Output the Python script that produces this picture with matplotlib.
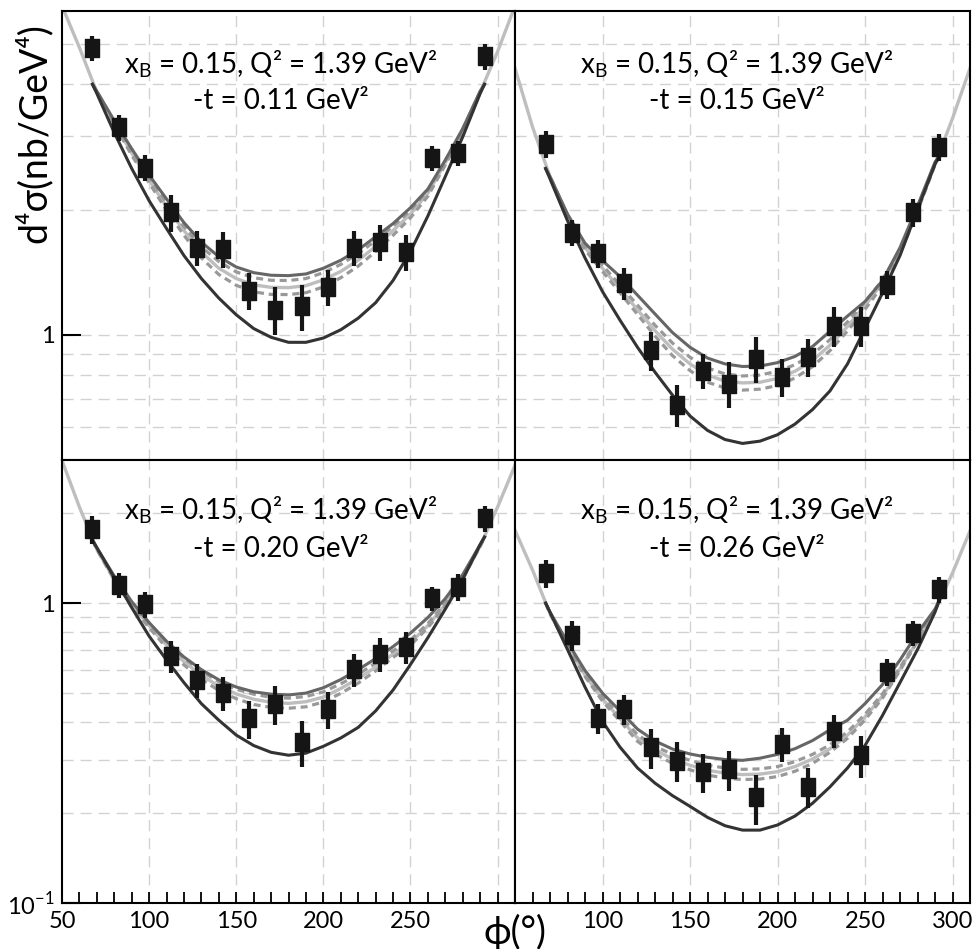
import matplotlib
matplotlib.use("Agg")
import matplotlib.pyplot as plt
from matplotlib.ticker import FixedLocator, FixedFormatter, NullLocator, MultipleLocator

plt.rcParams["font.family"] = ["Lato", "DejaVu Sans"]
plt.rcParams["mathtext.fontset"] = "custom"
plt.rcParams["mathtext.rm"] = "Lato"

# phi bins of the data points (deg)
PHI_BINS = [67.5, 82.5, 97.5, 112.5, 127.5, 142.5, 157.5, 172.5,
            187.5, 202.5, 217.5, 232.5, 247.5, 262.5, 277.5, 292.5]
# phi grid of the model curves
PHI_MODEL = [67.5, 70, 80, 90, 100, 110, 120, 130, 140, 150, 160, 170, 180,
             190, 200, 210, 220, 230, 240, 250, 260, 270, 280, 290, 292.5]
PHI_LIGHT = [50, 60, 70, 80, 90, 100, 110, 120, 130, 140, 150, 160, 170, 180,
             190, 200, 210, 220, 230, 240, 250, 260, 270, 280, 290, 300, 310]

# -t = 0.11
TL_Y = [4.89, 3.15, 2.52, 1.97, 1.62, 1.61, 1.275, 1.15, 1.17, 1.30, 1.62, 1.67, 1.58, 2.66, 2.73, 4.67]
TL_ERR = [0.34, 0.22, 0.18, 0.20, 0.16, 0.16, 0.13, 0.15, 0.15, 0.13, 0.16, 0.17, 0.16, 0.19, 0.19, 0.33]
TL_LIGHT = [6.17, 4.90, 3.83, 3.23, 2.735, 2.355, 2.03, 1.78, 1.58, 1.445, 1.365, 1.318, 1.30, 1.298,
            1.312, 1.355, 1.42, 1.51, 1.63, 1.78, 1.95, 2.19, 2.59, 3.10, 3.83, 4.79, 6.17]
TL_UPPER = [4.00, 3.85, 3.27, 2.80, 2.42, 2.12, 1.86, 1.67, 1.54, 1.455, 1.41, 1.39, 1.387,
            1.40, 1.445, 1.51, 1.60, 1.72, 1.85, 2.02, 2.24, 2.63, 3.13, 3.85, 4.00]
TL_DASH_HI = [4.00, 3.84, 3.25, 2.77, 2.39, 2.075, 1.82, 1.625, 1.50, 1.416, 1.371, 1.352, 1.35,
              1.365, 1.41, 1.476, 1.567, 1.683, 1.824, 1.99, 2.22, 2.62, 3.12, 3.84, 4.00]
TL_DASH_LO = [4.00, 3.82, 3.21, 2.70, 2.32, 1.99, 1.734, 1.53, 1.396, 1.315, 1.268, 1.25, 1.249,
              1.262, 1.303, 1.371, 1.462, 1.585, 1.734, 1.91, 2.153, 2.56, 3.08, 3.82, 4.00]
TL_LOWER = [4.00, 3.80, 3.06, 2.51, 2.10, 1.80, 1.55, 1.365, 1.225, 1.117, 1.035, 0.986, 0.959,
            0.959, 0.982, 1.028, 1.096, 1.194, 1.35, 1.585, 1.93, 2.40, 2.99, 3.80, 4.00]

# -t = 0.15
TR_Y = [2.87, 1.76, 1.57, 1.33, 0.918, 0.679, 0.82, 0.763, 0.875, 0.792, 0.885, 1.05, 1.05, 1.32, 1.97, 2.83]
TR_ERR = [0.21, 0.13, 0.12, 0.12, 0.10, 0.08, 0.08, 0.095, 0.11, 0.083, 0.093, 0.115, 0.115, 0.10, 0.15, 0.21]
TR_LIGHT = [4.37, 3.16, 2.40, 1.93, 1.62, 1.445, 1.29, 1.148, 1.023, 0.923, 0.851, 0.80, 0.774, 0.766,
            0.769, 0.785, 0.817, 0.867, 0.944, 1.047, 1.175, 1.334, 1.585, 2.00, 2.57, 3.31, 4.37]
TR_UPPER = [2.51, 2.40, 1.95, 1.66, 1.507, 1.38, 1.245, 1.122, 1.012, 0.933, 0.879, 0.851, 0.839,
            0.841, 0.857, 0.887, 0.937, 1.019, 1.109, 1.202, 1.349, 1.62, 2.04, 2.60, 2.69]
TR_DASH_HI = [2.51, 2.40, 1.94, 1.64, 1.47, 1.315, 1.178, 1.054, 0.955, 0.883, 0.832, 0.805, 0.796,
              0.80, 0.817, 0.847, 0.897, 0.973, 1.074, 1.199, 1.355, 1.60, 2.01, 2.58, 2.69]
TR_DASH_LO = [2.51, 2.39, 1.91, 1.60, 1.42, 1.262, 1.119, 0.993, 0.891, 0.82, 0.769, 0.745, 0.736,
              0.74, 0.755, 0.787, 0.838, 0.916, 1.021, 1.151, 1.312, 1.567, 1.98, 2.56, 2.69]
TR_LOWER = [2.51, 2.37, 1.88, 1.53, 1.27, 1.084, 0.933, 0.813, 0.716, 0.638, 0.589, 0.56, 0.548,
            0.555, 0.575, 0.61, 0.661, 0.733, 0.851, 1.035, 1.26, 1.55, 2.00, 2.57, 2.69]

# -t = 0.20
BL_Y = [1.765, 1.148, 0.992, 0.666, 0.554, 0.502, 0.413, 0.461, 0.345, 0.442, 0.601, 0.679, 0.715, 1.037, 1.133, 1.916]
BL_ERR = [0.19, 0.11, 0.10, 0.081, 0.072, 0.065, 0.060, 0.069, 0.060, 0.062, 0.076, 0.088, 0.087, 0.097, 0.113, 0.19]
BL_LIGHT = [2.99, 2.09, 1.51, 1.20, 0.989, 0.841, 0.724, 0.638, 0.575, 0.528, 0.498, 0.478, 0.467, 0.463,
            0.469, 0.486, 0.519, 0.56, 0.612, 0.676, 0.738, 0.841, 0.989, 1.216, 1.55, 2.09, 2.88]
BL_UPPER = [1.62, 1.53, 1.23, 1.012, 0.861, 0.746, 0.661, 0.60, 0.555, 0.525, 0.506, 0.497, 0.494,
            0.501, 0.522, 0.556, 0.60, 0.653, 0.716, 0.794, 0.895, 1.035, 1.245, 1.567, 1.66]
BL_DASH_HI = [1.62, 1.52, 1.21, 1.00, 0.855, 0.74, 0.655, 0.593, 0.547, 0.516, 0.497, 0.485, 0.482,
              0.488, 0.506, 0.538, 0.579, 0.631, 0.693, 0.753, 0.855, 1.00, 1.225, 1.55, 1.66]
BL_DASH_LO = [1.62, 1.51, 1.194, 0.977, 0.828, 0.71, 0.622, 0.558, 0.511, 0.48, 0.459, 0.449, 0.446,
              0.451, 0.468, 0.50, 0.541, 0.594, 0.659, 0.723, 0.828, 0.977, 1.208, 1.545, 1.66]
BL_LOWER = [1.62, 1.53, 1.216, 0.966, 0.776, 0.646, 0.543, 0.462, 0.407, 0.363, 0.335, 0.318, 0.311,
            0.316, 0.333, 0.355, 0.385, 0.437, 0.513, 0.624, 0.767, 0.955, 1.20, 1.567, 1.66]

# -t = 0.26
BR_Y = [1.262, 0.782, 0.413, 0.442, 0.330, 0.298, 0.274, 0.279, 0.225, 0.339, 0.244, 0.375, 0.311, 0.590, 0.796, 1.11]
BR_ERR = [0.135, 0.088, 0.047, 0.05, 0.05, 0.045, 0.041, 0.042, 0.043, 0.044, 0.037, 0.047, 0.05, 0.062, 0.078, 0.109]
BR_LIGHT = [1.75, 1.29, 0.923, 0.724, 0.575, 0.479, 0.412, 0.355, 0.324, 0.302, 0.288, 0.277, 0.271, 0.268,
            0.269, 0.274, 0.285, 0.302, 0.327, 0.363, 0.417, 0.49, 0.603, 0.75, 0.944, 1.26, 1.74]
BR_UPPER = [1.00, 0.933, 0.741, 0.596, 0.501, 0.437, 0.38, 0.347, 0.326, 0.314, 0.306, 0.301, 0.299,
            0.304, 0.313, 0.327, 0.348, 0.378, 0.407, 0.462, 0.535, 0.646, 0.794, 0.955, 1.023]
BR_DASH_HI = [1.00, 0.925, 0.73, 0.582, 0.486, 0.421, 0.364, 0.333, 0.313, 0.299, 0.288, 0.282, 0.279,
              0.28, 0.285, 0.296, 0.313, 0.337, 0.372, 0.426, 0.498, 0.61, 0.755, 0.946, 1.023]
BR_DASH_LO = [1.00, 0.92, 0.719, 0.569, 0.471, 0.404, 0.346, 0.314, 0.292, 0.278, 0.267, 0.261, 0.258,
              0.259, 0.264, 0.275, 0.292, 0.318, 0.354, 0.408, 0.482, 0.596, 0.745, 0.942, 1.023]
BR_LOWER = [1.00, 0.933, 0.70, 0.525, 0.403, 0.331, 0.282, 0.251, 0.228, 0.21, 0.193, 0.181, 0.175,
            0.175, 0.182, 0.195, 0.215, 0.244, 0.282, 0.335, 0.422, 0.543, 0.70, 0.933, 1.023]

T_LABELS = ["0.11", "0.15", "0.20", "0.26"]
KIN_LABEL = r"x$_{\mathregular{B}}$ = 0.15, Q² = 1.39 GeV²"

GRID_X = [100, 150, 200, 250, 300]
GRID_Y_TOP = [0.6, 0.7, 0.8, 0.9, 1, 2, 3, 4, 5]
GRID_Y_BOT = [0.2, 0.3, 0.4, 0.5, 0.6, 0.7, 0.8, 0.9, 1, 2]

RECT = [(-0.78, -1), (0.78, -1), (0.78, 1), (-0.78, 1), (-0.78, -1)]

W, H = 976, 949
fig = plt.figure(figsize=(W / 100, H / 100), dpi=100)


def px_axes(x0, x1, y0, y1):
    return fig.add_axes([x0 / W, 1 - y1 / H, (x1 - x0) / W, (y1 - y0) / H])


axes = {
    "tl": px_axes(62, 515, 11, 460),
    "tr": px_axes(515, 970, 11, 460),
    "bl": px_axes(62, 515, 460, 903),
    "br": px_axes(515, 970, 460, 903),
}

panels = [
    ("tl", TL_Y, TL_ERR, TL_LIGHT, TL_UPPER, TL_DASH_HI, TL_DASH_LO, TL_LOWER, T_LABELS[0]),
    ("tr", TR_Y, TR_ERR, TR_LIGHT, TR_UPPER, TR_DASH_HI, TR_DASH_LO, TR_LOWER, T_LABELS[1]),
    ("bl", BL_Y, BL_ERR, BL_LIGHT, BL_UPPER, BL_DASH_HI, BL_DASH_LO, BL_LOWER, T_LABELS[2]),
    ("br", BR_Y, BR_ERR, BR_LIGHT, BR_UPPER, BR_DASH_HI, BR_DASH_LO, BR_LOWER, T_LABELS[3]),
]

for key, y, err, light, upper, dhi, dlo, lower, tlab in panels:
    ax = axes[key]
    top = key[0] == "t"
    left = key[1] == "l"
    ax.set_yscale("log")
    ax.set_xlim(50, 310)
    ax.set_ylim((0.5, 6) if top else (0.1, 3))

    for gx in GRID_X:
        ax.axvline(gx, color="#d2d2d2", lw=1.0, ls=(0, (8, 5)), zorder=0)
    for gy in (GRID_Y_TOP if top else GRID_Y_BOT):
        ax.axhline(gy, color="#d2d2d2", lw=1.0, ls=(0, (8, 5)), zorder=0)

    ax.plot(PHI_LIGHT, light, color="#bebebe", lw=2.4, zorder=2)
    ax.plot(PHI_MODEL, dhi, color="#999999", lw=2.3, ls=(0, (2.2, 1.5)), zorder=3)
    ax.plot(PHI_MODEL, dlo, color="#999999", lw=2.3, ls=(0, (2.2, 1.5)), zorder=3)
    ax.plot(PHI_MODEL, upper, color="#666666", lw=2.2, zorder=4)
    ax.plot(PHI_MODEL, lower, color="#333333", lw=2.2, zorder=4)

    ax.errorbar(PHI_BINS, y, yerr=err, fmt="none", ecolor="#151515", elinewidth=3.0,
                capsize=0, zorder=5)
    ax.plot(PHI_BINS, y, ls="none", marker=RECT, ms=13, color="#151515", zorder=6)

    xc = 0.483 if left else 0.488
    ax.text(xc, 0.882 if top else 0.887, KIN_LABEL, transform=ax.transAxes,
            ha="center", va="center", fontsize=20, zorder=7)
    ax.text(xc, 0.80, "-t = " + tlab + " GeV²", transform=ax.transAxes,
            ha="center", va="center", fontsize=20, zorder=7)

    for sp in ax.spines.values():
        sp.set_linewidth(1.5)

    # y axis ticks
    ax.yaxis.set_minor_locator(NullLocator())
    if left:
        if top:
            ax.yaxis.set_major_locator(FixedLocator([1]))
            ax.yaxis.set_major_formatter(FixedFormatter(["1"]))
        else:
            ax.yaxis.set_major_locator(FixedLocator([0.1, 1]))
            ax.yaxis.set_major_formatter(FixedFormatter([r"10$^{\mathregular{-1}}$", "1"]))
        ax.tick_params(axis="y", which="major", direction="in", length=14, width=1.5,
                       labelsize=17, pad=5)
    else:
        ax.yaxis.set_major_locator(NullLocator())

    # x axis ticks
    if top:
        ax.xaxis.set_major_locator(NullLocator())
        ax.xaxis.set_minor_locator(NullLocator())
    else:
        ax.xaxis.set_major_locator(FixedLocator([50, 100, 150, 200, 250, 300]))
        labels = ["50", "100", "150", "200", "250", ""] if left else ["", "100", "150", "200", "250", "300"]
        ax.xaxis.set_major_formatter(FixedFormatter(labels))
        ax.xaxis.set_minor_locator(MultipleLocator(10))
        ax.tick_params(axis="x", which="major", direction="in", length=8, width=1.3,
                       labelsize=17, pad=6)
        ax.tick_params(axis="x", which="minor", direction="in", length=8, width=1.3)

fig.text(34 / W, 1 - 133 / H, "d⁴σ(nb/GeV⁴)",
         rotation=90, ha="center", va="center", fontsize=27)
fig.text(515 / W, 1 - 932 / H, "ϕ(°)", ha="center", va="center", fontsize=27)

fig.savefig("out.png", dpi=100)
